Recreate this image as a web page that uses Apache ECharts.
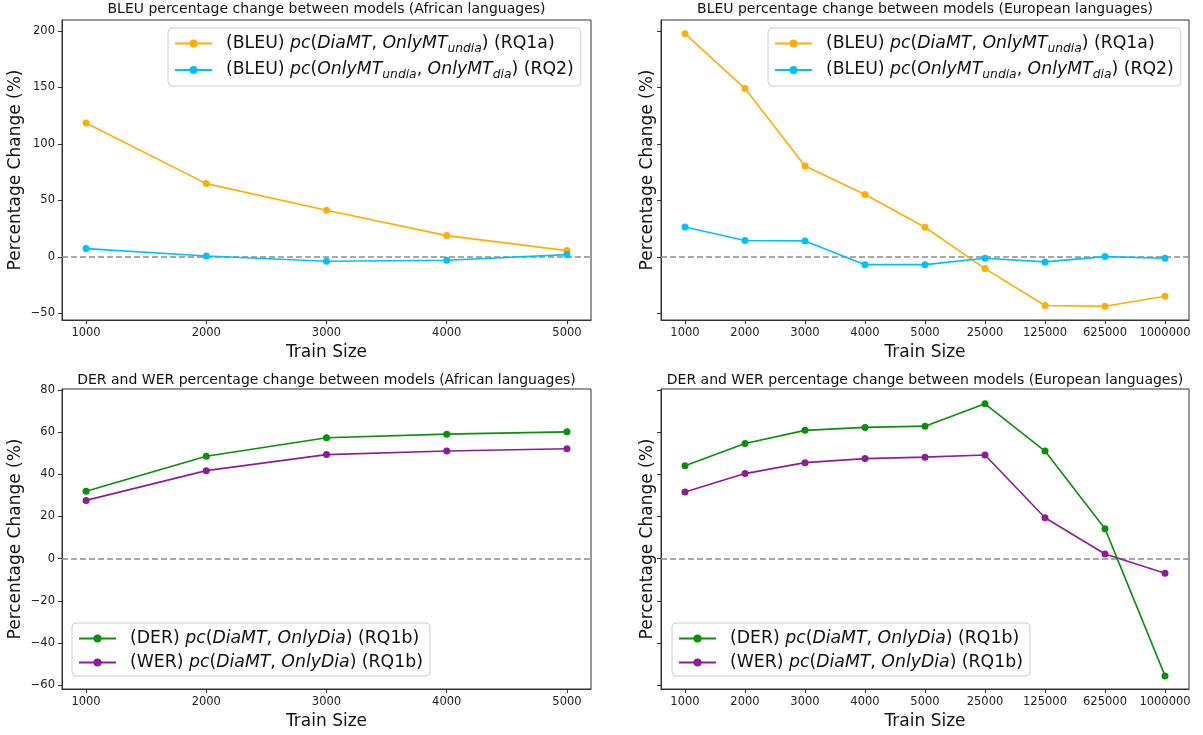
<!DOCTYPE html>
<html>
<head>
<meta charset="utf-8">
<script src="https://cdn.jsdelivr.net/npm/echarts@6/dist/echarts.min.js"></script>
<style>html,body{margin:0;padding:0;background:#fff}#c{width:1203px;height:735px}</style>
</head>
<body>
<div id="c"></div>
<script>
const trainSizesAfrican = ['1000','2000','3000','4000','5000'];
const trainSizesEuropean = ['1000','2000','3000','4000','5000','25000','125000','625000','1000000'];
const bleuAfrRQ1a = [118.6, 64.9, 41.3, 18.9, 5.6];
const bleuAfrRQ2 = [7.4, 0.9, -3.8, -2.9, 2.1];
const bleuEurRQ1a = [197.6, 149.0, 80.5, 55.2, 26.3, -10.3, -43.0, -43.7, -34.8];
const bleuEurRQ2 = [26.5, 14.5, 14.2, -6.8, -6.8, -1.2, -4.4, 0.3, -1.2];
const derAfr = [31.9, 48.5, 57.3, 59.0, 60.1];
const werAfr = [27.6, 41.7, 49.3, 51.0, 52.1];
const derEur = [44.0, 54.6, 60.8, 62.2, 62.8, 73.4, 51.0, 14.2, -55.6];
const werEur = [31.6, 40.3, 45.5, 47.4, 48.1, 49.1, 19.4, 2.2, -6.9];
const bleuTicks = [-50, 0, 50, 100, 150, 200];
const errTicks = [-60, -40, -20, 0, 20, 40, 60, 80];
const titles = [
  'BLEU percentage change between models (African languages)',
  'BLEU percentage change between models (European languages)',
  'DER and WER percentage change between models (African languages)',
  'DER and WER percentage change between models (European languages)'
];

const FONT = 'DejaVu Sans';
const COL = {orange:'#FFAE00', cyan:'#00BFFF', green:'#0A8F0A', purple:'#8E1C96', zero:'#8c8c8c'};

const grids = [
  {left:62, top:20, width:529, height:300},
  {left:661, top:20, width:528, height:300},
  {left:62, top:389, width:529, height:300},
  {left:661, top:389, width:528, height:300}
];
const cats = [trainSizesAfrican, trainSizesEuropean, trainSizesAfrican, trainSizesEuropean];
const yr = [[-55.8, 209.7], [-55.8, 209.7], [-61.8, 80.4], [-61.8, 80.4]];
const yt = [bleuTicks, bleuTicks, errTicks, errTicks];

function pairs(arr){ return arr.map((v,i)=>[i,v]); }
const minus = v => String(v).replace('-', '\u2212');

const xAxes = cats.map((c,k)=>({
  type:'value', gridIndex:k, min:-0.05*(c.length-1), max:(c.length-1)*1.05,
  splitLine:{show:false},
  axisLine:{show:true, onZero:false, lineStyle:{color:'#333', width:1}},
  axisTick:{show:true, length:4, lineStyle:{color:'#333'}, customValues:c.map((_,i)=>i)},
  axisLabel:{show:true, margin:7, color:'#222', fontFamily:FONT, fontSize:11.5,
    customValues:c.map((_,i)=>i), formatter:v=>c[Math.round(v)]},
  name:'Train Size', nameLocation:'middle', nameGap:24,
  nameTextStyle:{fontFamily:FONT, fontSize:17, color:'#111'}
}));
const yAxes = yr.map((r,k)=>({
  type:'value', gridIndex:k, min:r[0], max:r[1],
  splitLine:{show:false},
  axisLine:{show:true, onZero:false, lineStyle:{color:'#333', width:1}},
  axisTick:{show:true, length:4, lineStyle:{color:'#333'}, customValues:yt[k]},
  axisLabel:{show:(k%2===0), margin:7, color:'#222', fontFamily:FONT, fontSize:11.5,
    customValues:yt[k], formatter:v=>minus(v)},
  name:'Percentage Change (%)', nameLocation:'middle', nameRotate:90,
  nameGap:(k%2===0)?38:5,
  nameTextStyle:{fontFamily:FONT, fontSize:17, color:'#111'}
}));

const labels = {
  a1:'{g|}{n|(BLEU) }{i|pc}{n|(}{i|DiaMT}{n|, }{i|OnlyMT}{s|undia}{n|) (RQ1a)}',
  a2:'{g|}{n|(BLEU) }{i|pc}{n|(}{i|OnlyMT}{s|undia}{n|, }{i|OnlyMT}{s|dia}{n|) (RQ2)}',
  d1:'{g|}{n|(DER) }{i|pc}{n|(}{i|DiaMT}{n|, }{i|OnlyDia}{n|) (RQ1b)}',
  w1:'{g|}{n|(WER) }{i|pc}{n|(}{i|DiaMT}{n|, }{i|OnlyDia}{n|) (RQ1b)}'
};
const rich = {
  g:{width:9},
  n:{fontFamily:FONT, fontSize:17.3, color:'#111', lineHeight:22},
  i:{fontFamily:FONT, fontSize:17.3, fontStyle:'italic', color:'#111', lineHeight:22},
  s:{fontFamily:FONT, fontSize:12.3, fontStyle:'italic', color:'#111', lineHeight:14, verticalAlign:'bottom', padding:[7,0,0,0]}
};

function mk(id, name, data, color, k, zero){
  const s = {
    id:id, name:name, type:'line', xAxisIndex:k, yAxisIndex:k,
    data:pairs(data), symbol:'circle', symbolSize:7, showSymbol:true,
    lineStyle:{color:color, width:1.6}, itemStyle:{color:color},
    emphasis:{disabled:true}, animation:false
  };
  if (zero) {
    s.markLine = {silent:true, symbol:['none','none'], label:{show:false}, z:1,
      lineStyle:{color:COL.zero, type:[6,3], width:1.6}, data:[{yAxis:0}]};
  }
  return s;
}

const series = [
  mk('tl1','TL_a1', bleuAfrRQ1a, COL.orange, 0, true),
  mk('tl2','TL_a2', bleuAfrRQ2, COL.cyan, 0, false),
  mk('tr1','TR_a1', bleuEurRQ1a, COL.orange, 1, true),
  mk('tr2','TR_a2', bleuEurRQ2, COL.cyan, 1, false),
  mk('bl1','BL_d1', derAfr, COL.green, 2, true),
  mk('bl2','BL_w1', werAfr, COL.purple, 2, false),
  mk('br1','BR_d1', derEur, COL.green, 3, true),
  mk('br2','BR_w1', werEur, COL.purple, 3, false)
];

const legendBase = {
  orient:'vertical', itemWidth:37, itemHeight:10, itemGap:7,
  padding:[7,7,5,6], backgroundColor:'rgba(255,255,255,0.85)',
  borderColor:'#cccccc', borderWidth:1, borderRadius:4,
  textStyle:{rich:rich}, selectedMode:false,
  formatter: name => labels[name.split('_')[1]]
};
const legends = [
  Object.assign({}, legendBase, {left:168, top:28, data:['TL_a1','TL_a2']}),
  Object.assign({}, legendBase, {left:768, top:28, data:['TR_a1','TR_a2']}),
  Object.assign({}, legendBase, {left:72, top:623, data:['BL_d1','BL_w1']}),
  Object.assign({}, legendBase, {left:672, top:623, data:['BR_d1','BR_w1']})
];

const titleOpts = titles.map((t,k)=>({
  text:t, left:grids[k].left + grids[k].width/2, top:(k<2)?2:373, textAlign:'center', padding:0,
  textStyle:{fontFamily:FONT, fontSize:14, fontWeight:'normal', color:'#111'}
}));

const chart = echarts.init(document.getElementById('c'), null, {renderer:'canvas'});
chart.setOption({
  animation:false,
  backgroundColor:'#fff',
  title:titleOpts,
  grid:grids.map(g=>Object.assign({show:true, borderColor:'#333', borderWidth:1, backgroundColor:'transparent', containLabel:false}, g)),
  xAxis:xAxes,
  yAxis:yAxes,
  legend:legends,
  series:series
});
</script>
</body>
</html>
